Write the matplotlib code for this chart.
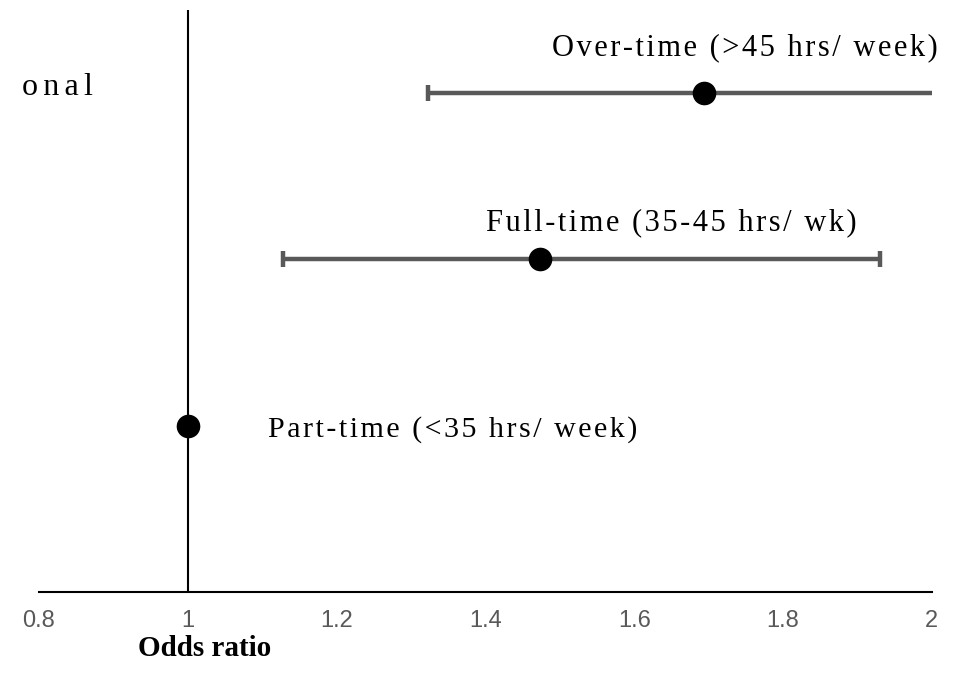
import matplotlib.pyplot as plt

# odds ratios with 95% CI, one row per working-hours group
groups = ["Part-time (<35 hrs/ week)", "Full-time (35-45 hrs/ wk)", "Over-time (>45 hrs/ week)"]
odds = [1.0, 1.474, 1.694]
ci_low = [None, 1.128, 1.323]
ci_high = [None, 1.930, 2.05]
xticks = [0.8, 1, 1.2, 1.4, 1.6, 1.8, 2]
xtick_labels = ["0.8", "1", "1.2", "1.4", "1.6", "1.8", "2"]

serif = ["Liberation Serif", "DejaVu Serif"]
grey = "#595959"


def spaced(s, n=1):
    # loose letter tracking using hair spaces
    return ("\u200a" * n).join(s)


fig = plt.figure(figsize=(9.55, 6.81), dpi=100)
ax = fig.add_axes([0.0408, 0.1307, 0.935, 0.8546])

ypos = [1, 2, 3]
for y, o, lo, hi in zip(ypos, odds, ci_low, ci_high):
    if lo is not None:
        ax.errorbar(o, y, xerr=[[o - lo], [hi - o]], fmt="none", ecolor=grey,
                    elinewidth=3.2, capsize=6, capthick=3.2, zorder=2, clip_on=True)
    ax.plot(o, y, "o", color="black", markersize=16, zorder=3, clip_on=False)

ax.axvline(1, color="black", lw=1.5, zorder=1)

# group labels
ax.text(1.749, 3.275, spaced(groups[2]), ha="center", va="center", fontsize=22, family=serif)
ax.text(1.650, 2.22, spaced(groups[1]), ha="center", va="center", fontsize=22, family=serif)
ax.text(1.108, 0.98, spaced(groups[0]), ha="left", va="center", fontsize=21.6, family=serif)

fig.text(0.097, 0.872, spaced("onal", 2), ha="right", va="center", fontsize=23, family=serif)

ax.set_xlim(0.8, 2)
ax.set_ylim(0, 3.5)
ax.set_xticks(xticks)
ax.set_xticklabels(xtick_labels, color=grey, fontsize=17,
                   family=["Liberation Sans Narrow", "Liberation Sans", "DejaVu Sans"])
ax.tick_params(axis="x", length=0, pad=13)
ax.set_yticks([])
for s in ["top", "right", "left"]:
    ax.spines[s].set_visible(False)
ax.spines["bottom"].set_linewidth(1.5)

fig.text(0.214, 0.047, "Odds ratio", ha="center", va="center", fontsize=21,
         fontweight="bold", family=serif)

fig.savefig("out.png", dpi=100)
